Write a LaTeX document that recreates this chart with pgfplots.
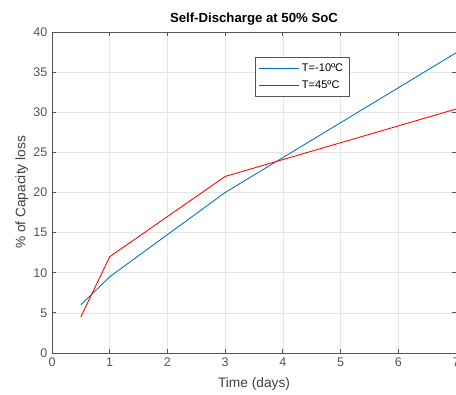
\documentclass[border=0pt]{standalone}
\usepackage{pgfplots}
\pgfplotsset{compat=1.18}
\usepackage{fontspec}
\setmainfont{Liberation Sans}
\definecolor{mblue}{rgb}{0,0.447,0.741}
\definecolor{axgray}{rgb}{0.33,0.33,0.33}
\begin{document}
\begin{tikzpicture}[x=1pt,y=1pt]
\begin{axis}[
  at={(0,0)}, anchor=south west,
  width=303pt, height=240.75pt, scale only axis,
  xmin=0, xmax=7, ymin=0, ymax=40,
  xtick={0,1,2,3,4,5,6,7}, ytick={0,5,10,15,20,25,30,35,40},
  grid=major,
  grid style={gray!20, line width=0.5pt},
  axis line style={axgray, line width=0.6pt},
  tick style={axgray, line width=0.6pt},
  tick align=inside, major tick length=3pt,
  ticklabel style={font=\fontsize{9.4}{11}\selectfont, text=axgray},
  /pgf/number format/assume math mode=true,
  title={\textbf{Self-Discharge at 50\% SoC}},
  title style={font=\fontsize{9.9}{12}\selectfont, yshift=-4.5pt},
  xlabel={Time (days)}, ylabel={\% of Capacity loss},
  label style={font=\fontsize{10.3}{12}\selectfont, text=black!75},
  xlabel style={yshift=-1.5pt},
  ylabel style={yshift=-3pt},
  legend style={at={(0.502,0.922)}, anchor=north west, font=\fontsize{8.3}{10}\selectfont,
    draw=axgray, line width=0.5pt, inner sep=2.5pt, row sep=1.5pt, cells={anchor=west}},
  legend cell align=left,
  legend image code/.code={\draw[#1, line width=0.6pt] (0pt,0pt) -- (30pt,0pt);},
]
\addplot[mblue, line width=0.65pt] coordinates {(0.5,6) (1,9.5) (3,20) (7,37.4)};
\addlegendentry{T=-10ºC}
\addplot[red, line width=0.65pt] coordinates {(0.5,4.5) (1,12) (3,22) (7,30.4)};
\addlegendentry{T=45ºC}
\end{axis}
\pgfresetboundingbox
\path[use as bounding box] (-39pt,-30.75pt) rectangle (303pt,264.75pt);
\end{tikzpicture}
\end{document}
